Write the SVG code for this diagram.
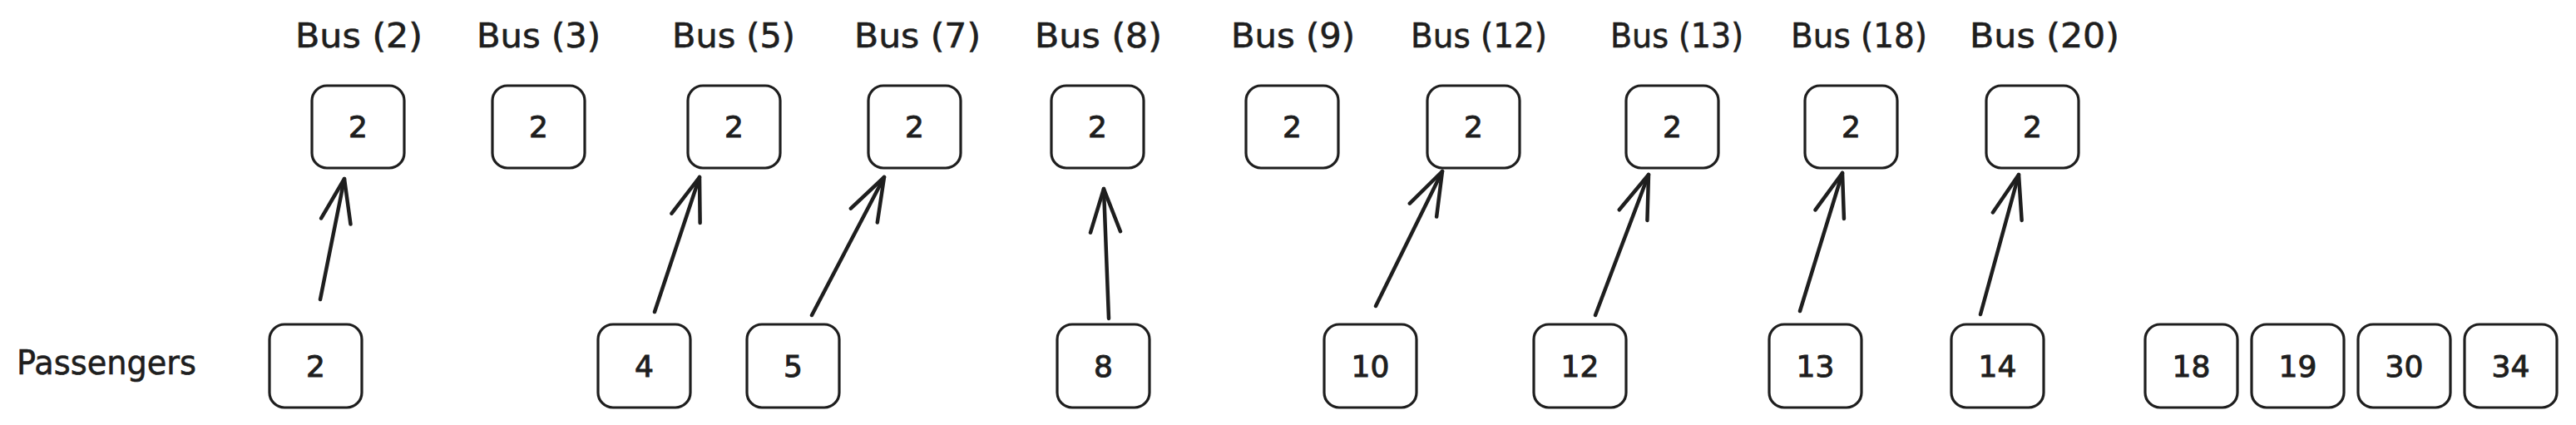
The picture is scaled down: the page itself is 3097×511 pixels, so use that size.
<svg xmlns="http://www.w3.org/2000/svg" width="3097" height="511" viewBox="0 0 3097 511">
<style>
.box{fill:none;stroke:#1e1e1e;stroke-width:3.2}
.num{font-family:"DejaVu Sans",sans-serif;font-size:36px;fill:#1e1e1e;stroke:#1e1e1e;stroke-width:1;text-anchor:middle}
.lbl{font-family:"DejaVu Sans",sans-serif;font-size:40px;fill:#1e1e1e;stroke:#1e1e1e;stroke-width:0.6}
.arr{fill:none;stroke:#1e1e1e;stroke-width:4.5;stroke-linecap:round;marker-end:url(#head)}
</style>
<defs>
<marker id="head" markerUnits="userSpaceOnUse" viewBox="-60 -25 70 50" refX="0" refY="0" markerWidth="70" markerHeight="50" orient="auto">
<path d="M-52,-18 L0,0 L-52,18" fill="none" stroke="#1e1e1e" stroke-width="4.5" stroke-linecap="round" stroke-linejoin="round"/>
</marker>
</defs>
<rect width="3097" height="511" fill="#ffffff"/>
<g id="title-passengers"><text class="lbl" x="20" y="450" font-size="38" textLength="216" lengthAdjust="spacingAndGlyphs">Passengers</text></g>
<g id="bus2"><text class="lbl" x="355" y="57" textLength="153" lengthAdjust="spacingAndGlyphs">Bus (2)</text><rect class="box" x="375" y="103" width="111" height="99" rx="18"/><text class="num" x="430.5" y="165">2</text></g>
<g id="bus3"><text class="lbl" x="573" y="57" textLength="149" lengthAdjust="spacingAndGlyphs">Bus (3)</text><rect class="box" x="592" y="103" width="111" height="99" rx="18"/><text class="num" x="647.5" y="165">2</text></g>
<g id="bus5"><text class="lbl" x="808" y="57" textLength="148" lengthAdjust="spacingAndGlyphs">Bus (5)</text><rect class="box" x="827" y="103" width="111" height="99" rx="18"/><text class="num" x="882.5" y="165">2</text></g>
<g id="bus7"><text class="lbl" x="1027" y="57" textLength="152" lengthAdjust="spacingAndGlyphs">Bus (7)</text><rect class="box" x="1044" y="103" width="111" height="99" rx="18"/><text class="num" x="1099.5" y="165">2</text></g>
<g id="bus8"><text class="lbl" x="1244" y="57" textLength="153" lengthAdjust="spacingAndGlyphs">Bus (8)</text><rect class="box" x="1264" y="103" width="111" height="99" rx="18"/><text class="num" x="1319.5" y="165">2</text></g>
<g id="bus9"><text class="lbl" x="1480" y="57" textLength="149" lengthAdjust="spacingAndGlyphs">Bus (9)</text><rect class="box" x="1498" y="103" width="111" height="99" rx="18"/><text class="num" x="1553.5" y="165">2</text></g>
<g id="bus12"><text class="lbl" x="1696" y="57" textLength="164" lengthAdjust="spacingAndGlyphs">Bus (12)</text><rect class="box" x="1716" y="103" width="111" height="99" rx="18"/><text class="num" x="1771.5" y="165">2</text></g>
<g id="bus13"><text class="lbl" x="1936" y="57" textLength="160" lengthAdjust="spacingAndGlyphs">Bus (13)</text><rect class="box" x="1955" y="103" width="111" height="99" rx="18"/><text class="num" x="2010.5" y="165">2</text></g>
<g id="bus18"><text class="lbl" x="2153" y="57" textLength="164" lengthAdjust="spacingAndGlyphs">Bus (18)</text><rect class="box" x="2170" y="103" width="111" height="99" rx="18"/><text class="num" x="2225.5" y="165">2</text></g>
<g id="bus20"><text class="lbl" x="2368" y="57" textLength="180" lengthAdjust="spacingAndGlyphs">Bus (20)</text><rect class="box" x="2388" y="103" width="111" height="99" rx="18"/><text class="num" x="2443.5" y="165">2</text></g>
<g id="p2"><rect class="box" x="324" y="390" width="111" height="100" rx="18"/><text class="num" x="379.5" y="453">2</text></g>
<g id="p4"><rect class="box" x="719" y="390" width="111" height="100" rx="18"/><text class="num" x="774.5" y="453">4</text></g>
<g id="p5"><rect class="box" x="898" y="390" width="111" height="100" rx="18"/><text class="num" x="953.5" y="453">5</text></g>
<g id="p8"><rect class="box" x="1271" y="390" width="111" height="100" rx="18"/><text class="num" x="1326.5" y="453">8</text></g>
<g id="p10"><rect class="box" x="1592" y="390" width="111" height="100" rx="18"/><text class="num" x="1647.5" y="453">10</text></g>
<g id="p12"><rect class="box" x="1844" y="390" width="111" height="100" rx="18"/><text class="num" x="1899.5" y="453">12</text></g>
<g id="p13"><rect class="box" x="2127" y="390" width="111" height="100" rx="18"/><text class="num" x="2182.5" y="453">13</text></g>
<g id="p14"><rect class="box" x="2346" y="390" width="111" height="100" rx="18"/><text class="num" x="2401.5" y="453">14</text></g>
<g id="p18"><rect class="box" x="2579" y="390" width="111" height="100" rx="18"/><text class="num" x="2634.5" y="453">18</text></g>
<g id="p19"><rect class="box" x="2707" y="390" width="111" height="100" rx="18"/><text class="num" x="2762.5" y="453">19</text></g>
<g id="p30"><rect class="box" x="2835" y="390" width="111" height="100" rx="18"/><text class="num" x="2890.5" y="453">30</text></g>
<g id="p34"><rect class="box" x="2963" y="390" width="111" height="100" rx="18"/><text class="num" x="3018.5" y="453">34</text></g>
<g id="connectors">
<path class="arr" d="M385,360 L414,215"/>
<path class="arr" d="M787,375 L841,213"/>
<path class="arr" d="M976,379 L1063,213"/>
<path class="arr" d="M1333,383 L1327,227"/>
<path class="arr" d="M1654,368 L1734,206"/>
<path class="arr" d="M1918,379 L1982,210"/>
<path class="arr" d="M2164,374 L2215,208"/>
<path class="arr" d="M2381,378 L2427,210"/>
</g>
</svg>
